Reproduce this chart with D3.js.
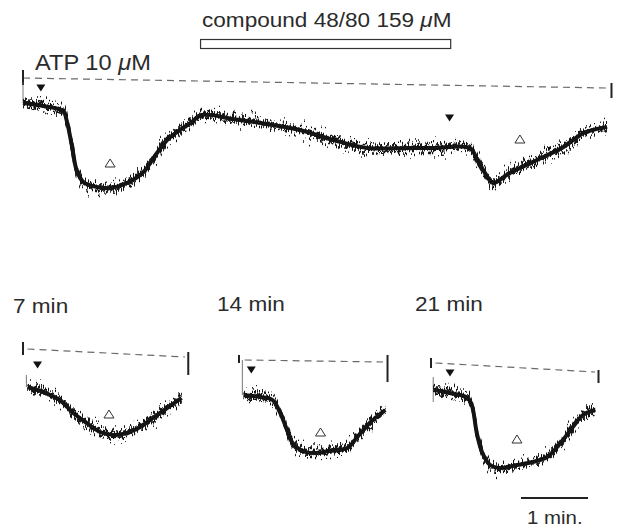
<!DOCTYPE html>
<html>
<head>
<meta charset="utf-8">
<script src="https://cdn.jsdelivr.net/npm/d3@7"></script>
<style>
    body { margin: 0; background: #fff; }
    .label { font-family: "Liberation Sans", Arial, sans-serif; fill: #2b2b2b; }
    .baseline { fill: none; stroke: #6a6a6a; stroke-width: 1.2; stroke-dasharray: 7 5; }
    .trace { fill: none; stroke: #151515; stroke-linejoin: round; }
</style>
</head>
<body>
<div id="chart"></div>
<script>
// time in s, current in pA (0 = baseline at start of each record)
const traceMain = [[0, -125], [18, -140], [36, -165], [39, -210], [44, -345], [48, -460], [54, -520],
    [66, -545], [78, -550], [93, -525], [107, -475], [120, -375], [129, -310], [138, -270], [150, -225],
    [160, -185], [188, -205], [218, -230], [248, -260], [278, -310], [308, -350], [344, -350], [367, -350],
    [400, -350], [407, -410], [416, -495], [421, -525], [436, -475], [466, -395], [484, -345], [502, -275],
    [523, -245]];
const trace7 = [[4, -190], [18, -215], [33, -255], [45, -320], [57, -370], [69, -415], [81, -430],
    [93, -420], [105, -390], [116, -345], [129, -295], [142, -245]];
const trace14 = [[4, -175], [19, -185], [30, -200], [37, -265], [43, -350], [48, -415], [57, -455],
    [70, -465], [84, -450], [97, -440], [106, -385], [117, -315], [131, -250]];
const trace21 = [[2, -135], [17, -150], [33, -175], [37, -220], [41, -350], [46, -450], [53, -510],
    [62, -525], [77, -510], [91, -495], [104, -470], [116, -400], [127, -320], [136, -260], [147, -235]];

// drop from baseline to holding level at the start of each record
const leadMain = [[0, -20], [0, -125]];
const lead7 = [[3, -130], [3, -190]];
const lead14 = [[3, 0], [3, -175]];
const lead21 = [[2, -70], [2, -195]];

// dashed baselines (start, end)
const baseMain = [[0, 0], [523, -50]];
const base7 = [[4, 0], [145, -40]];
const base14 = [[5, 0], [129, -10]];
const base21 = [[4, 0], [147, -45]];

// record ends [t, top, bottom]
const endsMain = [[0, 40, -35], [527, -25, -100]];
const ends7 = [[0, 35, -30], [148, -15, -130]];
const ends14 = [[0, 25, -15], [133, 25, -110]];
const ends21 = [[0, 25, -25], [150, -35, -100]];

// ATP applications (filled) and response peaks (open)
const atpMain = [[16, -50], [382, -200]];
const peakMain = [[78, -425], [445, -305]];
const atp7 = [[13, -80]];
const peak7 = [[77, -325]];
const atp14 = [[11, -50]];
const peak14 = [[73, -360]];
const atp21 = [[17, -50]];
const peak21 = [[77, -380]];

const compound = [159, 383];
const compoundLabel = ["compound 48/80 159 ", "\u03bc", "M"];
const atpLabel = ["ATP 10 ", "\u03bc", "M"];
const timeLabels = ["7 min", "14 min", "21 min"];
const scaleBarSec = 60;

const width = 620, height = 527;

const svg = d3.select("#chart").append("svg")
    .attr("width", width).attr("height", height);

// noisy look of the recording: vertical jitter only
const defs = svg.append("defs");
[[1, 24], [5, -24], [9, 40]].forEach(function (f) {
    let filter = defs.append("filter").attr("id", "noise" + f[0])
        .attr("filterUnits", "userSpaceOnUse")
        .attr("x", 0).attr("y", 0).attr("width", width).attr("height", height)
        .attr("color-interpolation-filters", "sRGB");
    filter.append("feTurbulence").attr("type", "fractalNoise")
        .attr("baseFrequency", "0.8 0.02").attr("numOctaves", 2).attr("seed", f[0]).attr("result", "t");
    filter.append("feColorMatrix").attr("in", "t").attr("type", "matrix")
        .attr("values", "0 0 0 0 0.5  0 1 0 0 0  0 0 0 0 0  0 0 0 0 1").attr("result", "m");
    filter.append("feDisplacementMap").attr("in", "SourceGraphic").attr("in2", "m")
        .attr("scale", f[1]).attr("xChannelSelector", "R").attr("yChannelSelector", "G");
});

// same time / current scale for every record
const x = d3.scaleLinear().domain([0, 60]).range([0, 67]);
const y = d3.scaleLinear().domain([0, -100]).range([0, 20]);

const line = d3.line().x(d => x(d[0])).y(d => y(d[1])).curve(d3.curveCatmullRom.alpha(0.5));
const straight = d3.line().x(d => x(d[0])).y(d => y(d[1]));

const records = [
    {trace: traceMain, lead: leadMain, base: baseMain, ends: endsMain, atp: atpMain, peak: peakMain, ox: 23, oy: 78},
    {trace: trace7, lead: lead7, base: base7, ends: ends7, atp: atp7, peak: peak7, ox: 23, oy: 349},
    {trace: trace14, lead: lead14, base: base14, ends: ends14, atp: atp14, peak: peak14, ox: 239, oy: 360},
    {trace: trace21, lead: lead21, base: base21, ends: ends21, atp: atp21, peak: peak21, ox: 431, oy: 363}
];

records.forEach(function (r) {
    let g = svg.append("g").attr("transform", "translate(" + r.ox + "," + r.oy + ")");

    g.append("path").attr("class", "baseline").attr("d", straight(r.base));

    g.selectAll(".end").data(r.ends).enter().append("line")
        .attr("x1", d => x(d[0])).attr("x2", d => x(d[0]))
        .attr("y1", d => y(d[1])).attr("y2", d => y(d[2]))
        .attr("stroke", "#222").attr("stroke-width", 2);

    g.append("path").attr("d", straight(r.lead))
        .attr("stroke", "#555").attr("stroke-width", 0.8).attr("fill", "none");

    // trace body plus noisy copies
    g.append("path").attr("class", "trace").attr("d", line(r.trace)).attr("stroke-width", 4);
    g.append("path").attr("class", "trace").attr("d", line(r.trace))
        .attr("stroke-width", 2.6).attr("filter", "url(#noise1)");
    g.append("path").attr("class", "trace").attr("d", line(r.trace))
        .attr("stroke-width", 2.6).attr("filter", "url(#noise5)");
    g.append("path").attr("class", "trace").attr("d", line(r.trace)).attr("stroke", "#333")
        .attr("stroke-width", 1.3).attr("filter", "url(#noise9)");

    g.selectAll(".atp").data(r.atp).enter().append("path")
        .attr("transform", d => "translate(" + x(d[0]) + "," + y(d[1]) + ")")
        .attr("d", "M-4.5,-3.5L4.5,-3.5L0,3.5Z").attr("fill", "#111");

    g.selectAll(".peak").data(r.peak).enter().append("path")
        .attr("transform", d => "translate(" + x(d[0]) + "," + y(d[1]) + ")")
        .attr("d", "M-5,4L5,4L0,-4Z").attr("fill", "none").attr("stroke", "#333").attr("stroke-width", 1);
});

// compound application bar
svg.append("rect")
    .attr("x", records[0].ox + x(compound[0])).attr("y", 39.5)
    .attr("width", x(compound[1]) - x(compound[0])).attr("height", 9)
    .attr("fill", "none").attr("stroke", "#333").attr("stroke-width", 1.2);

function label(parts, px, py, size) {
    let t = svg.append("text").attr("class", "label")
        .attr("transform", "translate(" + px + "," + py + ") scale(1.075,1)")
        .attr("font-size", size);
    if (typeof parts === "string") parts = [parts];
    parts.forEach(function (p, i) {
        t.append("tspan").attr("font-style", i === 1 ? "italic" : null).text(p);
    });
}

label(compoundLabel, 202, 27, 21);
label(atpLabel, 35, 70, 22);
label(timeLabels[0], 13, 313, 21);
label(timeLabels[1], 217, 311, 21);
label(timeLabels[2], 415, 311, 21);

// 1 min scale bar
svg.append("line")
    .attr("x1", 521).attr("x2", 521 + x(scaleBarSec) - x(0))
    .attr("y1", 498).attr("y2", 498)
    .attr("stroke", "#222").attr("stroke-width", 2);
label("1 min.", 527, 524, 19);
</script>
</body>
</html>
